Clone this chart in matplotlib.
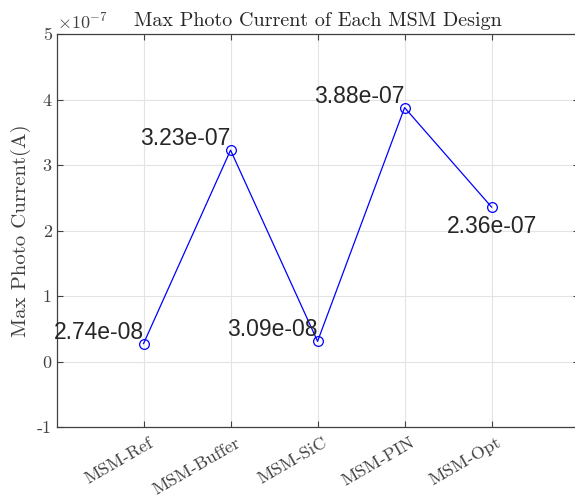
import numpy as np
import matplotlib
matplotlib.use("Agg")
import matplotlib.pyplot as plt
import matplotlib.transforms as mtransforms
from matplotlib.ticker import FuncFormatter

designs = ["MSM-Ref", "MSM-Buffer", "MSM-SiC", "MSM-PIN", "MSM-Opt"]
max_current = [2.74e-08, 3.23e-07, 3.09e-08, 3.88e-07, 2.36e-07]
# label placement per point (MATLAB-style text alignment)
label_ha = ["right", "right", "right", "right", "center"]
label_va = ["bottom", "bottom", "bottom", "bottom", "top"]

plt.rcParams["mathtext.fontset"] = "cm"
plt.rcParams["font.family"] = ["cmr10", "DejaVu Serif"]
plt.rcParams["axes.unicode_minus"] = False

GRAY = "#404040"
fig = plt.figure(figsize=(5.75, 5.03), dpi=100)
ax = fig.add_axes([0.0983, 0.1511, 0.908, 0.7807])

x = np.arange(1, len(designs) + 1)
ax.plot(x, max_current, color="blue", lw=0.9, marker="o", ms=7,
        mfc="none", mec="blue", mew=0.9)

for xi, yi, ha, va in zip(x, max_current, label_ha, label_va):
    dy = -6 if va == "top" else 0
    ax.annotate(f"{yi:.2e}", (xi, yi), xytext=(0, dy), textcoords="offset points",
                ha=ha, va=va, fontsize=16.5, family="Liberation Sans",
                color="#262626")

ax.set_xlim(0, 6)
ax.set_ylim(-1e-7, 5e-7)
ax.set_xticks(x)
ax.set_xticklabels([])
# rotated category labels, drawn by hand so they can sit a little right of the tick
lbl_tr = ax.get_xaxis_transform() + mtransforms.ScaledTranslation(
    5 / 100, -8 / 100, fig.dpi_scale_trans)
for xi, name in zip(x, designs):
    ax.text(xi, 0, name, transform=lbl_tr, rotation=30, ha="right", va="top",
            rotation_mode="anchor", fontsize=13, color=GRAY)
ax.set_yticks(np.arange(-1, 6) * 1e-7)
ax.yaxis.set_major_formatter(FuncFormatter(lambda v, p: f"{v / 1e-7:.0f}"))

ax.grid(True, color="#e3e3e3", lw=0.8)
ax.set_axisbelow(True)
for s in ax.spines.values():
    s.set_color(GRAY)
    s.set_linewidth(0.9)
ax.tick_params(direction="in", top=True, right=True, length=4, width=0.8,
               color=GRAY, labelcolor=GRAY, labelsize=13)

ax.set_title("Max Photo Current of Each MSM Design", fontsize=14.5,
             color="#262626", pad=6)
ax.set_ylabel("Max Photo Current(A)", fontsize=15, color=GRAY, labelpad=4)
ax.text(0.0, 1.005, r"$\times10^{-7}$", transform=ax.transAxes, ha="left",
        va="bottom", fontsize=13, color=GRAY)

fig.savefig("out.png", dpi=100)
